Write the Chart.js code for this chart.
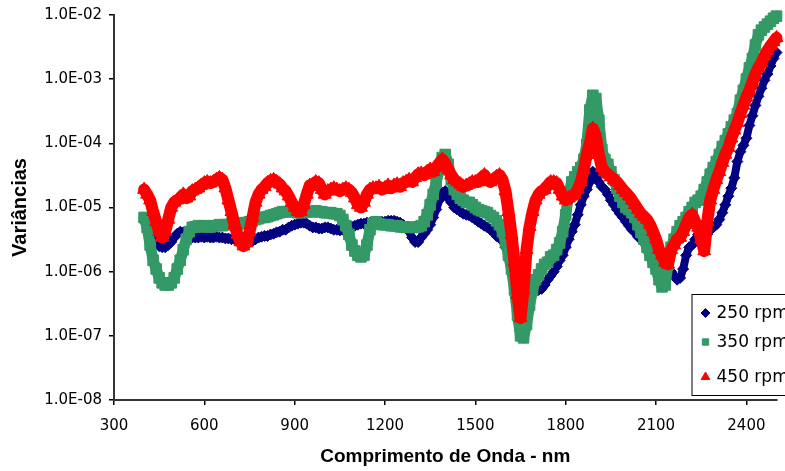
<!DOCTYPE html>
<html>
<head>
<meta charset="utf-8">
<script src="https://cdn.jsdelivr.net/npm/chart.js@4/dist/chart.umd.min.js"></script>
<style>
    body { margin: 0; background: #fff; }
    #wrap { width: 785px; height: 471px; overflow: hidden; }
</style>
</head>
<body>
<div id="wrap"><canvas id="variancias" width="785" height="471"></canvas></div>
<script>
// comprimento de onda (nm)
const wavelengths = [
    400, 410, 420, 430, 440, 450, 460, 470, 480, 490,
    500, 510, 520, 530, 540, 550, 560, 570, 580, 590,
    600, 610, 620, 630, 640, 650, 660, 670, 680, 690,
    700, 710, 720, 730, 740, 750, 760, 770, 780, 790,
    800, 810, 820, 830, 840, 850, 860, 870, 880, 890,
    900, 910, 920, 930, 940, 950, 960, 970, 980, 990,
    1000, 1010, 1020, 1030, 1040, 1050, 1060, 1070, 1080, 1090,
    1100, 1110, 1120, 1130, 1140, 1150, 1160, 1170, 1180, 1190,
    1200, 1210, 1220, 1230, 1240, 1250, 1260, 1270, 1280, 1290,
    1300, 1310, 1320, 1330, 1340, 1350, 1360, 1370, 1380, 1390,
    1400, 1410, 1420, 1430, 1440, 1450, 1460, 1470, 1480, 1490,
    1500, 1510, 1520, 1530, 1540, 1550, 1560, 1570, 1580, 1590,
    1600, 1610, 1620, 1630, 1640, 1650, 1660, 1670, 1680, 1690,
    1700, 1710, 1720, 1730, 1740, 1750, 1760, 1770, 1780, 1790,
    1800, 1810, 1820, 1830, 1840, 1850, 1860, 1870, 1880, 1890,
    1900, 1910, 1920, 1930, 1940, 1950, 1960, 1970, 1980, 1990,
    2000, 2010, 2020, 2030, 2040, 2050, 2060, 2070, 2080, 2090,
    2100, 2110, 2120, 2130, 2140, 2150, 2160, 2170, 2180, 2190,
    2200, 2210, 2220, 2230, 2240, 2250, 2260, 2270, 2280, 2290,
    2300, 2310, 2320, 2330, 2340, 2350, 2360, 2370, 2380, 2390,
    2400, 2410, 2420, 2430, 2440, 2450, 2460, 2470, 2480, 2490,
    2500
];

const rpm250 = [
    6.0e-6, 5.6e-6, 4.9e-6, 3.8e-6, 2.9e-6, 2.5e-6, 2.4e-6, 2.4e-6, 2.6e-6, 2.9e-6,
    3.4e-6, 3.9e-6, 4.2e-6, 4.1e-6, 3.8e-6, 3.5e-6, 3.4e-6, 3.4e-6, 3.4e-6, 3.5e-6,
    3.4e-6, 3.5e-6, 3.4e-6, 3.4e-6, 3.5e-6, 3.4e-6, 3.4e-6, 3.3e-6, 3.3e-6, 3.2e-6,
    3.2e-6, 3.0e-6, 2.9e-6, 2.8e-6, 2.8e-6, 2.9e-6, 3.0e-6, 3.2e-6, 3.4e-6, 3.5e-6,
    3.6e-6, 3.6e-6, 3.8e-6, 3.9e-6, 4.1e-6, 4.2e-6, 4.5e-6, 4.5e-6, 4.9e-6, 5.2e-6,
    5.4e-6, 5.6e-6, 5.8e-6, 5.8e-6, 5.6e-6, 5.2e-6, 4.9e-6, 4.9e-6, 4.7e-6, 4.7e-6,
    4.9e-6, 4.9e-6, 4.7e-6, 4.5e-6, 4.5e-6, 4.4e-6, 4.5e-6, 4.7e-6, 4.9e-6, 5.0e-6,
    5.2e-6, 5.4e-6, 5.6e-6, 5.6e-6, 5.8e-6, 5.8e-6, 6.0e-6, 6.0e-6, 6.0e-6, 6.0e-6,
    6.0e-6, 6.2e-6, 6.2e-6, 6.2e-6, 6.0e-6, 5.8e-6, 5.4e-6, 4.9e-6, 4.2e-6, 3.4e-6,
    2.9e-6, 2.9e-6, 3.4e-6, 3.9e-6, 4.5e-6, 5.4e-6, 7.0e-6, 9.3e-6, 1.3e-5, 1.7e-5,
    1.8e-5, 1.4e-5, 1.2e-5, 1.0e-5, 9.3e-6, 8.6e-6, 8.0e-6, 7.7e-6, 7.5e-6, 7.0e-6,
    6.5e-6, 6.0e-6, 5.6e-6, 5.2e-6, 4.9e-6, 4.5e-6, 4.1e-6, 3.6e-6, 3.4e-6, 3.0e-6,
    2.4e-6, 1.7e-6, 1.1e-6, 6.7e-7, 4.4e-7, 3.3e-7, 3.0e-7, 3.4e-7, 4.1e-7, 4.5e-7,
    4.9e-7, 5.2e-7, 5.4e-7, 6.2e-7, 7.5e-7, 8.6e-7, 1.0e-6, 1.2e-6, 1.5e-6, 1.8e-6,
    2.4e-6, 3.2e-6, 4.2e-6, 5.4e-6, 7.7e-6, 1.1e-5, 1.5e-5, 1.9e-5, 2.5e-5, 3.6e-5,
    3.3e-5, 2.5e-5, 2.1e-5, 1.9e-5, 1.6e-5, 1.3e-5, 1.1e-5, 9.3e-6, 8.0e-6, 7.0e-6,
    6.0e-6, 5.2e-6, 4.5e-6, 4.1e-6, 3.5e-6, 3.2e-6, 2.8e-6, 2.5e-6, 2.4e-6, 2.2e-6,
    2.0e-6, 1.7e-6, 1.4e-6, 1.2e-6, 1.1e-6, 1.0e-6, 8.6e-7, 7.5e-7, 8.0e-7, 1.1e-6,
    1.8e-6, 2.4e-6, 2.6e-6, 3.2e-6, 3.8e-6, 4.2e-6, 3.2e-6, 3.8e-6, 4.5e-6, 4.9e-6,
    5.4e-6, 6.5e-6, 8.3e-6, 1.1e-5, 1.5e-5, 2.0e-5, 2.9e-5, 5.2e-5, 7.4e-5, 9.3e-5,
    1.2e-4, 1.9e-4, 2.7e-4, 3.9e-4, 5.4e-4, 7.2e-4, 9.6e-4, 1.2e-3, 1.6e-3, 2.1e-3,
    2.6e-3
];

const rpm350 = [
    7.0e-6, 4.9e-6, 2.6e-6, 1.5e-6, 1.1e-6, 8.0e-7, 6.7e-7, 6.2e-7, 6.2e-7, 6.7e-7,
    8.0e-7, 1.1e-6, 1.5e-6, 2.2e-6, 3.2e-6, 4.2e-6, 4.9e-6, 5.0e-6, 5.2e-6, 5.0e-6,
    5.2e-6, 5.0e-6, 5.0e-6, 5.2e-6, 5.2e-6, 5.4e-6, 5.2e-6, 5.4e-6, 5.4e-6, 5.6e-6,
    5.6e-6, 5.4e-6, 5.6e-6, 5.8e-6, 5.8e-6, 6.0e-6, 6.2e-6, 6.5e-6, 6.7e-6, 7.0e-6,
    7.0e-6, 7.2e-6, 7.5e-6, 7.7e-6, 8.0e-6, 8.3e-6, 8.6e-6, 8.6e-6, 8.6e-6, 8.9e-6,
    8.6e-6, 8.3e-6, 8.3e-6, 8.6e-6, 8.6e-6, 8.6e-6, 8.6e-6, 8.9e-6, 8.6e-6, 8.6e-6,
    8.3e-6, 8.3e-6, 8.3e-6, 8.0e-6, 8.0e-6, 7.5e-6, 6.5e-6, 5.2e-6, 3.8e-6, 2.6e-6,
    2.1e-6, 1.8e-6, 1.7e-6, 1.8e-6, 2.6e-6, 4.5e-6, 5.6e-6, 6.0e-6, 5.6e-6, 5.4e-6,
    5.4e-6, 5.4e-6, 5.2e-6, 5.2e-6, 5.2e-6, 5.0e-6, 5.0e-6, 4.9e-6, 4.9e-6, 4.9e-6,
    4.9e-6, 5.0e-6, 5.2e-6, 6.0e-6, 7.7e-6, 1.1e-5, 1.6e-5, 2.5e-5, 3.9e-5, 6.0e-5,
    6.7e-5, 4.7e-5, 2.7e-5, 1.9e-5, 1.6e-5, 1.4e-5, 1.3e-5, 1.2e-5, 1.2e-5, 1.1e-5,
    1.0e-5, 9.3e-6, 8.9e-6, 8.6e-6, 8.3e-6, 7.5e-6, 7.0e-6, 6.2e-6, 5.4e-6, 4.2e-6,
    2.9e-6, 1.8e-6, 1.1e-6, 5.2e-7, 2.1e-7, 1.0e-7, 9.3e-8, 1.5e-7, 3.0e-7, 5.2e-7,
    7.5e-7, 8.9e-7, 1.1e-6, 1.3e-6, 1.4e-6, 1.7e-6, 1.8e-6, 2.2e-6, 2.8e-6, 4.2e-6,
    7.7e-6, 1.6e-5, 2.5e-5, 3.0e-5, 3.6e-5, 4.2e-5, 5.6e-5, 9.6e-5, 3.3e-4, 5.6e-4,
    5.0e-4, 2.3e-4, 8.0e-5, 5.6e-5, 4.7e-5, 3.6e-5, 2.7e-5, 2.0e-5, 1.5e-5, 1.2e-5,
    1.0e-5, 9.3e-6, 8.3e-6, 7.0e-6, 5.4e-6, 4.1e-6, 3.2e-6, 2.4e-6, 1.8e-6, 1.4e-6,
    1.1e-6, 7.5e-7, 5.8e-7, 6.2e-7, 1.3e-6, 2.4e-6, 3.2e-6, 4.2e-6, 5.2e-6, 6.0e-6,
    7.0e-6, 8.6e-6, 1.0e-5, 1.2e-5, 1.3e-5, 1.5e-5, 1.9e-5, 2.5e-5, 3.3e-5, 4.2e-5,
    5.2e-5, 6.7e-5, 8.9e-5, 1.1e-4, 1.4e-4, 1.8e-4, 2.3e-4, 2.9e-4, 4.7e-4, 6.7e-4,
    1.0e-3, 1.5e-3, 2.1e-3, 3.4e-3, 4.9e-3, 5.8e-3, 6.5e-3, 7.2e-3, 8.0e-3, 8.9e-3,
    9.6e-3
];

const rpm450 = [
    1.9e-5, 1.6e-5, 1.3e-5, 8.6e-6, 6.0e-6, 4.2e-6, 3.4e-6, 4.2e-6, 6.5e-6, 1.0e-5,
    1.2e-5, 1.3e-5, 1.4e-5, 1.6e-5, 1.4e-5, 1.5e-5, 1.8e-5, 1.9e-5, 2.0e-5, 2.2e-5,
    2.4e-5, 2.5e-5, 2.4e-5, 2.5e-5, 2.7e-5, 2.9e-5, 2.7e-5, 2.0e-5, 1.3e-5, 8.6e-6,
    5.4e-6, 3.8e-6, 2.9e-6, 2.5e-6, 2.8e-6, 4.2e-6, 7.0e-6, 1.2e-5, 1.6e-5, 1.9e-5,
    2.1e-5, 2.4e-5, 2.6e-5, 2.7e-5, 2.5e-5, 2.3e-5, 2.0e-5, 1.8e-5, 1.5e-5, 1.2e-5,
    1.0e-5, 8.6e-6, 8.6e-6, 1.1e-5, 1.6e-5, 2.2e-5, 2.2e-5, 2.5e-5, 2.4e-5, 1.9e-5,
    1.6e-5, 1.8e-5, 1.9e-5, 2.0e-5, 1.9e-5, 1.8e-5, 1.9e-5, 2.0e-5, 1.9e-5, 1.7e-5,
    1.4e-5, 1.1e-5, 1.0e-5, 1.2e-5, 1.6e-5, 1.9e-5, 2.0e-5, 2.0e-5, 2.1e-5, 1.9e-5,
    2.0e-5, 2.2e-5, 2.0e-5, 2.2e-5, 2.3e-5, 2.1e-5, 2.4e-5, 2.5e-5, 2.7e-5, 2.5e-5,
    2.9e-5, 3.3e-5, 3.4e-5, 3.2e-5, 3.6e-5, 3.9e-5, 3.6e-5, 4.2e-5, 4.9e-5, 5.6e-5,
    4.9e-5, 3.9e-5, 3.2e-5, 2.7e-5, 2.5e-5, 2.3e-5, 2.1e-5, 2.2e-5, 2.3e-5, 2.5e-5,
    2.5e-5, 2.5e-5, 2.9e-5, 3.2e-5, 2.7e-5, 2.5e-5, 2.7e-5, 3.0e-5, 3.2e-5, 2.7e-5,
    1.8e-5, 8.6e-6, 3.8e-6, 1.4e-6, 4.4e-7, 1.9e-7, 5.2e-7, 2.2e-6, 5.0e-6, 8.6e-6,
    1.3e-5, 1.6e-5, 1.8e-5, 1.9e-5, 2.2e-5, 2.5e-5, 2.5e-5, 2.4e-5, 1.9e-5, 1.5e-5,
    1.3e-5, 1.4e-5, 1.5e-5, 1.6e-5, 1.9e-5, 2.5e-5, 3.9e-5, 6.7e-5, 1.0e-4, 1.7e-4,
    1.3e-4, 6.7e-5, 4.2e-5, 3.6e-5, 3.3e-5, 3.0e-5, 2.7e-5, 2.5e-5, 2.2e-5, 1.9e-5,
    1.7e-5, 1.5e-5, 1.3e-5, 1.1e-5, 9.3e-6, 8.0e-6, 7.2e-6, 6.5e-6, 5.4e-6, 4.2e-6,
    3.2e-6, 2.2e-6, 1.8e-6, 1.4e-6, 1.3e-6, 2.2e-6, 2.6e-6, 3.2e-6, 3.4e-6, 4.2e-6,
    5.4e-6, 7.0e-6, 7.7e-6, 6.0e-6, 4.9e-6, 3.2e-6, 2.1e-6, 6.0e-6, 1.3e-5, 1.9e-5,
    2.7e-5, 3.6e-5, 5.0e-5, 6.7e-5, 8.6e-5, 1.2e-4, 1.6e-4, 2.1e-4, 2.9e-4, 3.9e-4,
    5.2e-4, 6.7e-4, 8.9e-4, 1.2e-3, 1.5e-3, 1.8e-3, 2.3e-3, 2.8e-3, 3.3e-3, 3.8e-3,
    4.4e-3
];

const xTicks = [300, 600, 900, 1200, 1500, 1800, 2100, 2400];
const yTicks = [1e-8, 1e-7, 1e-6, 1e-5, 1e-4, 1e-3, 1e-2];
const yTickLabels = ['1.0E-08', '1.0E-07', '1.0E-06', '1.0E-05', '1.0E-04', '1.0E-03', '1.0E-02'];

const TICK_FONT = '"DejaVu Sans", Verdana, sans-serif';
const TITLE_FONT = 'Arial, "Liberation Sans", sans-serif';
Chart.defaults.font.family = TICK_FONT;
Chart.defaults.color = '#000';

function points(values) {
    return values.map((v, i) => ({x: wavelengths[i], y: v}));
}

// os pontos são muito densos: uma linha grossa da mesma cor preenche a faixa entre marcadores
function series(label, values, color, style, radius, band, order) {
    return {
        label: label,
        data: points(values),
        showLine: true,
        borderWidth: band,
        borderJoinStyle: 'round',
        borderCapStyle: 'round',
        pointStyle: style,
        pointRadius: radius,
        pointHoverRadius: radius,
        pointBackgroundColor: color,
        pointBorderColor: color,
        pointBorderWidth: 1,
        backgroundColor: color,
        borderColor: color,
        order: order,
        clip: false
    };
}

// legenda desenhada por cima do gráfico, no canto inferior direito
const boxLegend = {
    id: 'boxLegend',
    afterDraw(chart) {
        const ctx = chart.ctx;
        const area = chart.chartArea;
        const left = area.right - 85, top = area.bottom - 106;
        ctx.save();
        ctx.fillStyle = '#fff';
        ctx.fillRect(left, top, 120, 101);
        ctx.strokeStyle = '#000';
        ctx.lineWidth = 1;
        ctx.strokeRect(left + 0.5, top + 0.5, 120, 101);
        const rows = [19, 48, 83];
        const sizes = [4.5, 4.5, 5];
        ctx.font = '17px ' + TICK_FONT;
        ctx.textBaseline = 'middle';
        ctx.textAlign = 'left';
        chart.data.datasets.forEach((ds, i) => {
            const y = top + rows[i];
            ctx.fillStyle = ds.pointBackgroundColor;
            ctx.strokeStyle = ds.pointBorderColor;
            ctx.lineWidth = 1;
            Chart.helpers.drawPoint(ctx, {pointStyle: ds.pointStyle, radius: sizes[i], rotation: 0, borderWidth: 1}, left + 14, y);
            ctx.fillStyle = '#000';
            ctx.fillText(ds.label, left + 25, y + 1);
        });
        ctx.restore();
    }
};

new Chart(document.getElementById('variancias').getContext('2d'), {
    type: 'scatter',
    data: {
        datasets: [
            series('250 rpm', rpm250, '#000080', 'rectRot', 5.5, 8, 3),
            series('350 rpm', rpm350, '#339966', 'rect', 7.5, 11, 2),
            series('450 rpm', rpm450, '#ff0000', 'triangle', 7.5, 12, 1)
        ]
    },
    options: {
        responsive: false,
        animation: false,
        layout: {padding: {top: 15, right: 3, bottom: 0, left: 0}},
        plugins: {
            legend: {display: false},
            tooltip: {enabled: false}
        },
        scales: {
            x: {
                type: 'linear',
                min: 300,
                max: 2500,
                afterBuildTicks: s => { s.ticks = xTicks.map(v => ({value: v})); },
                afterFit: s => { s.height = 71; s.paddingLeft = 0; s.paddingRight = 0; },
                ticks: {autoSkip: false, maxRotation: 0, padding: 12, font: {size: 15}, callback: v => v},
                grid: {drawOnChartArea: false, drawTicks: true, tickLength: 5, color: '#000', lineWidth: 1.5},
                border: {display: true, color: '#333', width: 2},
                title: {display: true, text: 'Comprimento de Onda - nm', font: {family: TITLE_FONT, size: 19, weight: 'bold', lineHeight: 1}, padding: {top: 0, bottom: 5}}
            },
            y: {
                type: 'logarithmic',
                min: 1e-8,
                max: 1e-2,
                afterBuildTicks: s => { s.ticks = yTicks.map(v => ({value: v})); },
                afterFit: s => { s.width = 114; s.paddingTop = 0; s.paddingBottom = 0; },
                ticks: {autoSkip: false, padding: 7, font: {size: 15}, callback: (v, i) => yTickLabels[i]},
                grid: {drawOnChartArea: false, drawTicks: true, tickLength: 5, color: '#000', lineWidth: 1.5},
                border: {display: true, color: '#333', width: 2},
                title: {display: true, text: 'Variâncias', font: {family: TITLE_FONT, size: 20, weight: 'bold', lineHeight: 1.2}, padding: {top: 8, bottom: 0}}
            }
        }
    },
    plugins: [boxLegend]
});
</script>
</body>
</html>
